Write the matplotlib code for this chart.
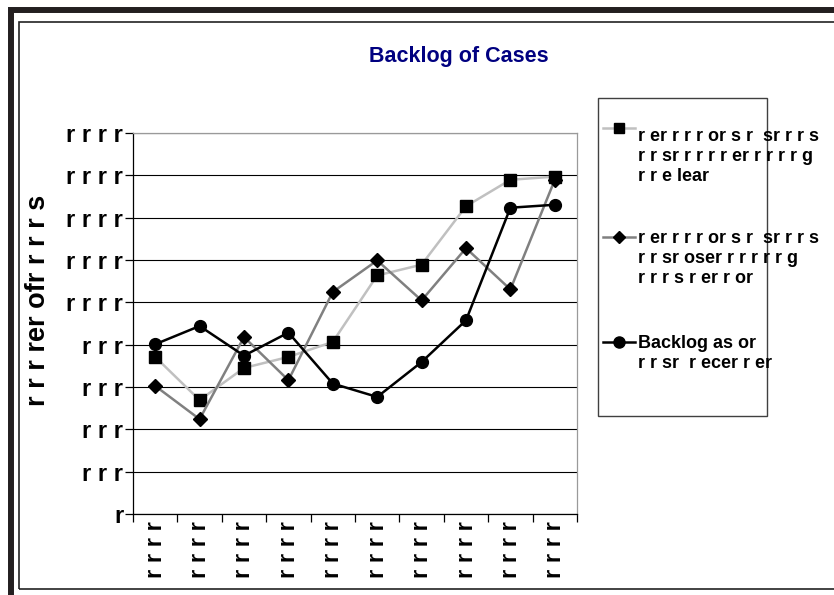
import matplotlib
matplotlib.use('Agg')
import matplotlib.pyplot as plt
from matplotlib.patches import Rectangle
from matplotlib.lines import Line2D

plt.rcParams['font.family'] = ['Liberation Sans', 'DejaVu Sans']

# Data
x_labels = ['r r r r'] * 10
y_ticks = [0, 200, 400, 600, 800, 1000, 1200, 1400, 1600, 1800]
y_tick_labels = ['r', 'r r r', 'r r r', 'r r r', 'r r r',
                 'r r r r', 'r r r r', 'r r r r', 'r r r r', 'r r r r']
square_vals = [742, 538, 690, 742, 813, 1127, 1178, 1454, 1579, 1594]
diamond_vals = [605, 448, 836, 632, 1049, 1198, 1009, 1256, 1061, 1579]
circle_vals = [802, 888, 748, 857, 616, 553, 718, 915, 1447, 1461]
legend_labels = [
    'r er r r r or s r  sr r r s\nr r sr r r r r er r r r r g\nr r e lear',
    'r er r r r or s r  sr r r s\nr r sr oser r r r r r g\nr r r s r er r or',
    'Backlog as or\nr r sr  r ecer r er',
]
title = 'Backlog of Cases'
y_label = 'r r r rer ofr r r r s'

W, H = 834, 595


def fx(px):
    return px / W


def fy(py):
    return 1 - py / H


fig = plt.figure(figsize=(W / 100, H / 100), dpi=100, facecolor='white')

# frame around the chart
fig.patches.append(Rectangle((fx(10.5), fy(900)), fx(1000), fy(10) - fy(900),
                             transform=fig.transFigure, fill=False,
                             ec='#231f20', lw=4.3))
fig.patches.append(Rectangle((fx(18.5), fy(589)), fx(1000), fy(21.5) - fy(589),
                             transform=fig.transFigure, fill=False,
                             ec='#222222', lw=1.2))

ax = fig.add_axes([fx(133), fy(514), (577 - 133) / W, (514 - 133) / H])
xs = list(range(1, len(x_labels) + 1))

styles = [
    dict(color='#c0c0c0', marker='s', ms=8),
    dict(color='#808080', marker='D', ms=7),
    dict(color='black', marker='o', ms=8.5),
]
for vals, st in zip([square_vals, diamond_vals, circle_vals], styles):
    ax.plot(xs, vals, color=st['color'], lw=1.8, marker=st['marker'],
            ms=st['ms'], mfc='black', mec='black', zorder=3, clip_on=False)

ax.set_xlim(0.5, len(x_labels) + 0.5)
ax.set_ylim(0, 1800)
ax.set_yticks(y_ticks)
ax.set_yticklabels(y_tick_labels, fontsize=17, fontweight='bold')
ax.set_xticks(xs)
ax.set_xticklabels(x_labels, rotation=90, fontsize=17, fontweight='bold',
                   va='top', ha='center')
ax.set_xticks([i + 0.5 for i in range(len(x_labels) + 1)], minor=True)
ax.tick_params(axis='x', which='major', length=0, pad=5)
ax.tick_params(axis='x', which='minor', length=6, width=0.9, direction='out')
ax.tick_params(axis='y', length=6, width=0.9, direction='out', pad=1)
ax.yaxis.grid(True, color='black', lw=0.8)
ax.set_axisbelow(True)
for s in ['left', 'bottom']:
    ax.spines[s].set_color('black')
    ax.spines[s].set_linewidth(0.9)
for s in ['top', 'right']:
    ax.spines[s].set_color('#9a9a9a')
    ax.spines[s].set_linewidth(0.9)

fig.text(fx(459), fy(62), title, color='#000080', fontsize=15.5,
         fontweight='bold', ha='center', va='baseline')
fig.text(fx(38), fy(300), y_label, rotation=90, fontsize=19.5,
         fontweight='bold', ha='center', va='center')

# legend, drawn by hand so the text can run past the box like the original
fig.patches.append(Rectangle((fx(598), fy(416)), (767 - 598) / W, (416 - 98) / H,
                             transform=fig.transFigure, fill=False,
                             ec='#404040', lw=1))
marker_y = [128, 237, 342]
text_base = [141, 243, 348]
for st, lab, my, tb in zip(styles, legend_labels, marker_y, text_base):
    fig.add_artist(Line2D([fx(603), fx(635)], [fy(my), fy(my)],
                          color=st['color'], lw=1.8, transform=fig.transFigure))
    fig.add_artist(Line2D([fx(619)], [fy(my)], marker=st['marker'],
                          ms=st['ms'] - 0.5, mfc='black', mec='black',
                          transform=fig.transFigure))
    for i, line in enumerate(lab.split('\n')):
        fig.text(fx(638), fy(tb + 20 * i), line, fontsize=13,
                 fontweight='bold', ha='left', va='baseline')

fig.savefig('out.png', dpi=100, facecolor='white')
